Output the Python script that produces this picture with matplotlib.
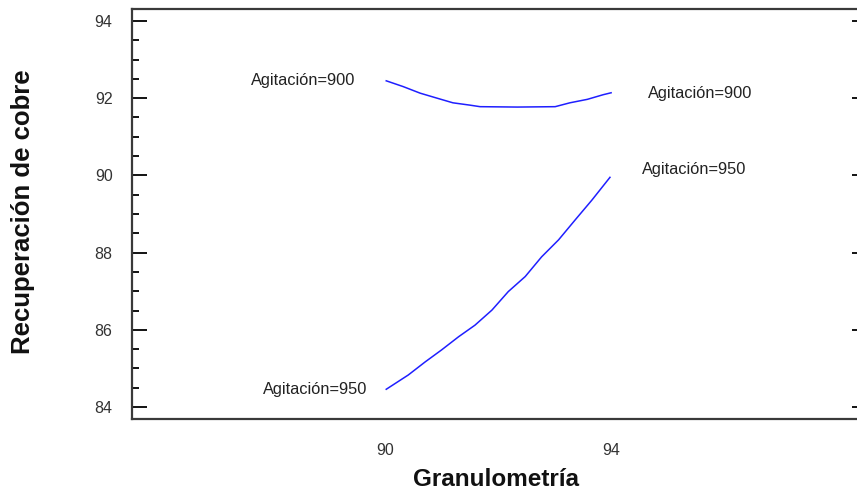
import numpy as np
import matplotlib.pyplot as plt
from matplotlib.ticker import MultipleLocator

plt.rcParams['font.family'] = ['Liberation Sans', 'DejaVu Sans']

# curva Agitación=900
gran_900 = [90.02, 90.32, 90.62, 90.92, 91.20, 91.50, 91.68, 92.34, 93.01, 93.27, 93.58, 93.86, 94.00]
rec_900 = [92.45, 92.30, 92.13, 92.00, 91.88, 91.82, 91.78, 91.77, 91.78, 91.88, 91.97, 92.09, 92.14]

# curva Agitación=950
gran_950 = [90.02, 90.41, 90.71, 91.00, 91.30, 91.59, 91.89, 92.18, 92.48, 92.77, 93.07, 93.36, 93.66, 93.98]
rec_950 = [84.46, 84.83, 85.17, 85.48, 85.82, 86.12, 86.51, 86.99, 87.38, 87.89, 88.33, 88.84, 89.36, 89.95]

xticks = [90, 94]
yticks = [84, 86, 88, 90, 92, 94]

fig = plt.figure(figsize=(8.57, 4.93), dpi=100)
ax = fig.add_axes([132/857, 1-419/493, (858-132)/857, (419-9)/493])

azul = '#1f1fff'
ax.plot(gran_900, rec_900, color=azul, lw=1.1)
ax.plot(gran_950, rec_950, color=azul, lw=1.1)

ax.set_xlim(85.52, 98.37)
ax.set_ylim(83.69, 94.31)
ax.set_xticks(xticks)
ax.set_yticks(yticks)
ax.yaxis.set_minor_locator(MultipleLocator(0.5))

ax.tick_params(axis='x', length=0, pad=17, labelsize=11.5, labelcolor='#333333')
ax.tick_params(axis='y', which='major', direction='in', length=11, width=1.3,
               pad=14, labelsize=11.5, labelcolor='#333333')
ax.tick_params(axis='y', which='minor', direction='in', length=5, width=1.3)

for s in ['left', 'top', 'bottom']:
    ax.spines[s].set_linewidth(1.6)
    ax.spines[s].set_color('#3a3a3a')
ax.spines['right'].set_visible(False)

ax2 = ax.twinx()
ax2.set_ylim(ax.get_ylim())
ax2.set_yticks(yticks)
ax2.tick_params(axis='y', direction='in', length=4, width=1.3, labelright=False)
for s in ax2.spines.values():
    s.set_visible(False)

fs = 11.8
ax.text(89.47, rec_900[0], 'Agitación=900', ha='right', va='center', fontsize=fs, color='#222222')
ax.text(89.68, rec_950[0], 'Agitación=950', ha='right', va='center', fontsize=fs, color='#222222')
ax.text(94.65, 92.11, 'Agitación=900', ha='left', va='center', fontsize=fs, color='#222222')
ax.text(94.55, 90.14, 'Agitación=950', ha='left', va='center', fontsize=fs, color='#222222')

fig.text(496/857, 1-479/493, 'Granulometría', ha='center', va='center',
         fontsize=17.5, fontweight='bold', color='#111111')
fig.text(23/857, 1-212/493, 'Recuperación de cobre', ha='center', va='center',
         rotation=90, fontsize=18.5, fontweight='bold', color='#111111')

fig.savefig('out.png', dpi=100)
